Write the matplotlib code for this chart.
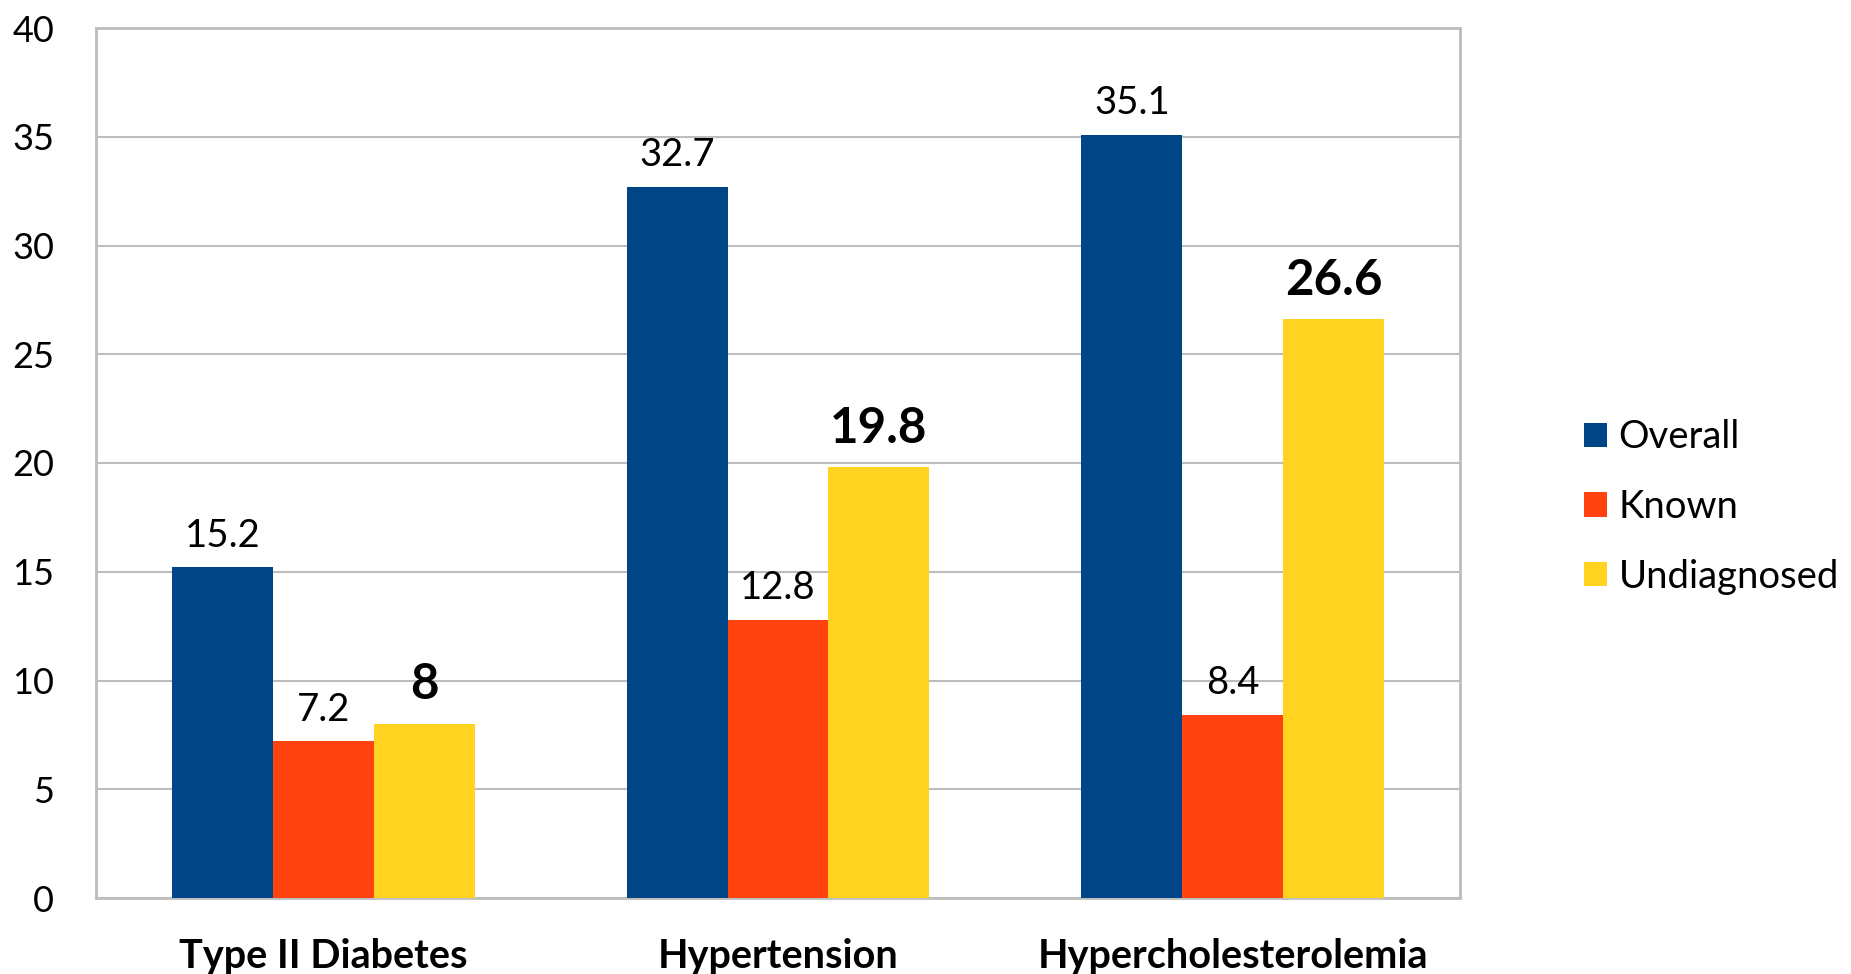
import numpy as np
import matplotlib.pyplot as plt

# Prevalence (%) by condition
categories = ['Type II Diabetes', 'Hypertension', 'Hypercholesterolemia']
series_names = ['Overall', 'Known', 'Undiagnosed']
overall = [15.2, 32.7, 35.1]
known = [7.2, 12.8, 8.4]
undiagnosed = [8, 19.8, 26.6]
y_ticks = [0, 5, 10, 15, 20, 25, 30, 35, 40]

colors = ['#004586', '#FF420E', '#FFD320']
grid_grey = '#BDBDBD'

plt.rcParams['font.family'] = ['Lato', 'DejaVu Sans']

fig = plt.figure(figsize=(18.51, 9.74), dpi=100)
ax = fig.add_axes([96 / 1851, 76 / 974, 1364 / 1851, 870 / 974])

x = np.arange(len(categories))
width = 0.222
handles = []
for i, (vals, name) in enumerate(zip([overall, known, undiagnosed], series_names)):
    bars = ax.bar(x + (i - 1) * width, vals, width, color=colors[i], label=name, zorder=3)
    handles.append(bars)
    # value labels; the undiagnosed series is emphasised in bold
    bold = (name == 'Undiagnosed')
    for b, v in zip(bars, vals):
        ax.annotate(f'{v:g}', (b.get_x() + b.get_width() / 2, v),
                    xytext=(0, 12 if bold else 10), textcoords='offset points',
                    ha='center', va='bottom',
                    fontsize=35.5 if bold else 27.5,
                    fontweight='bold' if bold else 'normal', color='black')

ax.set_xlim(-0.5, 2.5)
ax.set_ylim(0, 40)
ax.set_yticks(y_ticks)
ax.set_xticks(x)
ax.set_xticklabels(categories, fontsize=28.5, fontweight='bold')
ax.tick_params(axis='x', length=0, pad=29)
ax.tick_params(axis='y', length=0, pad=30, labelsize=26)
ax.grid(axis='y', color=grid_grey, linewidth=1.5, zorder=0)
for s in ax.spines.values():
    s.set_color(grid_grey)
    s.set_linewidth(2)

fig.legend(handles=handles, labels=series_names, loc='center left',
           bbox_to_anchor=(1569 / 1851, 1 - 507 / 974), frameon=False,
           fontsize=27.5, handlelength=0.6, handleheight=0.6, handletextpad=0.3,
           labelspacing=0.88, borderaxespad=0)

fig.savefig('out.png', dpi=100, facecolor='white')
